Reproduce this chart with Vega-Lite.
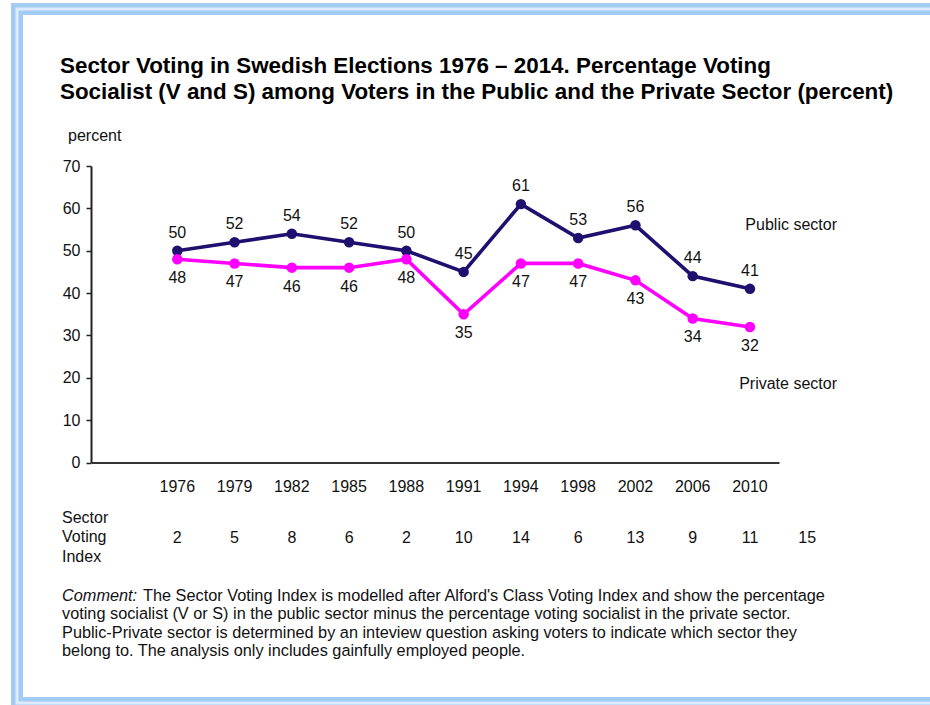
{
  "$schema": "https://vega.github.io/schema/vega-lite/v6.json",
  "width": 688,
  "height": 296.5,
  "autosize": {"type": "none"},
  "padding": {"left": 91, "top": 166, "right": 151, "bottom": 242.5},
  "background": "white",
  "config": {
    "font": "Liberation Sans",
    "view": {"stroke": null},
    "text": {"font": "Liberation Sans", "color": "#111"}
  },
  "title": {
    "text": [
      "Sector Voting in Swedish Elections 1976 – 2014. Percentage Voting",
      "Socialist (V and S) among Voters in the Public and the Private Sector (percent)"
    ],
    "anchor": "start",
    "frame": "group",
    "dx": -31,
    "dy": 100.5,
    "fontSize": 22.4,
    "fontWeight": "bold",
    "font": "Liberation Sans",
    "color": "#000",
    "lineHeight": 26,
    "offset": 0
  },
  "datasets": {
    "elections": [
      {"i": 0, "year": "1976", "public": 50, "private": 48, "svi": 2},
      {"i": 1, "year": "1979", "public": 52, "private": 47, "svi": 5},
      {"i": 2, "year": "1982", "public": 54, "private": 46, "svi": 8},
      {"i": 3, "year": "1985", "public": 52, "private": 46, "svi": 6},
      {"i": 4, "year": "1988", "public": 50, "private": 48, "svi": 2},
      {"i": 5, "year": "1991", "public": 45, "private": 35, "svi": 10},
      {"i": 6, "year": "1994", "public": 61, "private": 47, "svi": 14},
      {"i": 7, "year": "1998", "public": 53, "private": 47, "svi": 6},
      {"i": 8, "year": "2002", "public": 56, "private": 43, "svi": 13},
      {"i": 9, "year": "2006", "public": 44, "private": 34, "svi": 9},
      {"i": 10, "year": "2010", "public": 41, "private": 32, "svi": 11},
      {"i": 11, "year": "2014", "svi": 15}
    ]
  },
  "layer": [
    {
      "data": {"values": [{}]},
      "mark": {"type": "rect", "fillOpacity": 0, "stroke": "#a3ccf4", "strokeWidth": 12},
      "encoding": {
        "x": {"datum": -2.799, "type": "quantitative", "scale": {"domain": [-1.507, 10.507], "nice": false, "zero": false}},
        "x2": {"datum": 13.49},
        "y": {"datum": 107.07, "type": "quantitative", "scale": {"domain": [0, 70], "nice": false, "zero": false}},
        "y2": {"datum": -56.78}
      }
    },
    {
      "data": {"values": [{}]},
      "mark": {"type": "rect", "fillOpacity": 0, "stroke": "#dcecfc", "strokeWidth": 3},
      "encoding": {
        "x": {"datum": -2.799, "type": "quantitative", "scale": {"domain": [-1.507, 10.507], "nice": false, "zero": false}},
        "x2": {"datum": 13.49},
        "y": {"datum": 107.07, "type": "quantitative", "scale": {"domain": [0, 70], "nice": false, "zero": false}},
        "y2": {"datum": -56.78}
      }
    },
    {
      "data": {"name": "elections"},
      "transform": [
        {"fold": ["public", "private"], "as": ["sector", "pct"]},
        {"filter": "isValid(datum.pct)"}
      ],
      "encoding": {
        "x": {
          "field": "i", "type": "quantitative",
          "scale": {"domain": [-1.507, 10.507], "nice": false, "zero": false},
          "axis": {"domain": true, "domainColor": "#333", "domainWidth": 2, "ticks": false, "labels": false, "grid": false, "title": null}
        },
        "y": {
          "field": "pct", "type": "quantitative",
          "scale": {"domain": [0, 70], "nice": false, "zero": false},
          "axis": {
            "values": [0, 10, 20, 30, 40, 50, 60, 70],
            "domainColor": "#222", "domainWidth": 2,
            "tickColor": "#222", "tickWidth": 1.5, "tickSize": 5,
            "labelFontSize": 16, "labelColor": "#111", "labelPadding": 6,
            "grid": false, "title": null
          }
        },
        "color": {
          "field": "sector", "type": "nominal",
          "scale": {"domain": ["public", "private"], "range": ["#1f0f6e", "#ff00ff"]},
          "legend": null
        }
      },
      "layer": [
        {"mark": {"type": "line", "strokeWidth": 3.6}},
        {"mark": {"type": "circle", "size": 110, "opacity": 1}},
        {
          "transform": [{"filter": "datum.sector === 'public'"}],
          "mark": {"type": "text", "fontSize": 16, "dy": -13, "baseline": "alphabetic"},
          "encoding": {"text": {"field": "pct"}, "color": {"value": "#111"}}
        },
        {
          "transform": [{"filter": "datum.sector === 'private'"}],
          "mark": {"type": "text", "fontSize": 16, "dy": 24, "baseline": "alphabetic"},
          "encoding": {"text": {"field": "pct"}, "color": {"value": "#111"}}
        }
      ]
    },
    {
      "data": {"name": "elections"},
      "transform": [{"filter": "isValid(datum.public)"}],
      "mark": {"type": "text", "fontSize": 16, "baseline": "alphabetic"},
      "encoding": {
        "x": {"field": "i", "type": "quantitative", "scale": {"domain": [-1.507, 10.507], "nice": false, "zero": false}},
        "y": {"datum": -7.035, "type": "quantitative", "scale": {"domain": [0, 70], "nice": false, "zero": false}},
        "text": {"field": "year"}
      }
    },
    {
      "data": {"name": "elections"},
      "mark": {"type": "text", "fontSize": 16, "baseline": "alphabetic"},
      "encoding": {
        "x": {"field": "i", "type": "quantitative", "scale": {"domain": [-1.507, 10.507], "nice": false, "zero": false}},
        "y": {"datum": -19.08, "type": "quantitative", "scale": {"domain": [0, 70], "nice": false, "zero": false}},
        "text": {"field": "svi"}
      }
    },
    {
      "data": {"values": [{"label": "percent"}]},
      "mark": {"type": "text", "fontSize": 16, "align": "left", "baseline": "alphabetic"},
      "encoding": {
        "x": {"datum": -1.908, "type": "quantitative", "scale": {"domain": [-1.507, 10.507], "nice": false, "zero": false}},
        "y": {"datum": 75.97, "type": "quantitative", "scale": {"domain": [0, 70], "nice": false, "zero": false}},
        "text": {"field": "label"}
      }
    },
    {
      "data": {"values": [{"label": ["Sector", "Voting", "Index"]}]},
      "mark": {"type": "text", "fontSize": 16, "align": "left", "baseline": "alphabetic", "lineHeight": 19.2},
      "encoding": {
        "x": {"datum": -2.013, "type": "quantitative", "scale": {"domain": [-1.507, 10.507], "nice": false, "zero": false}},
        "y": {"datum": -14.35, "type": "quantitative", "scale": {"domain": [0, 70], "nice": false, "zero": false}},
        "text": {"field": "label"}
      }
    },
    {
      "data": {"values": [{"label": "Public sector"}]},
      "mark": {"type": "text", "fontSize": 16, "align": "right", "baseline": "alphabetic"},
      "encoding": {
        "x": {"datum": 11.519, "type": "quantitative", "scale": {"domain": [-1.507, 10.507], "nice": false, "zero": false}},
        "y": {"datum": 54.89, "type": "quantitative", "scale": {"domain": [0, 70], "nice": false, "zero": false}},
        "text": {"field": "label"}
      }
    },
    {
      "data": {"values": [{"label": "Private sector"}]},
      "mark": {"type": "text", "fontSize": 16, "align": "right", "baseline": "alphabetic"},
      "encoding": {
        "x": {"datum": 11.519, "type": "quantitative", "scale": {"domain": [-1.507, 10.507], "nice": false, "zero": false}},
        "y": {"datum": 17.35, "type": "quantitative", "scale": {"domain": [0, 70], "nice": false, "zero": false}},
        "text": {"field": "label"}
      }
    },
    {
      "data": {"values": [{"label": "Comment:"}]},
      "mark": {"type": "text", "fontSize": 16.3, "fontStyle": "italic", "align": "left", "baseline": "alphabetic"},
      "encoding": {
        "x": {"datum": -2.013, "type": "quantitative", "scale": {"domain": [-1.507, 10.507], "nice": false, "zero": false}},
        "y": {"datum": -32.7, "type": "quantitative", "scale": {"domain": [0, 70], "nice": false, "zero": false}},
        "text": {"field": "label"}
      }
    },
    {
      "data": {"values": [{"label": "The Sector Voting Index is modelled after Alford's Class Voting Index and show the percentage"}]},
      "mark": {"type": "text", "fontSize": 16.3, "align": "left", "baseline": "alphabetic", "dx": 81},
      "encoding": {
        "x": {"datum": -2.013, "type": "quantitative", "scale": {"domain": [-1.507, 10.507], "nice": false, "zero": false}},
        "y": {"datum": -32.7, "type": "quantitative", "scale": {"domain": [0, 70], "nice": false, "zero": false}},
        "text": {"field": "label"}
      }
    },
    {
      "data": {"values": [{"label": [
        "voting socialist (V or S) in the public sector minus the percentage voting socialist in the private sector.",
        "Public-Private sector is determined by an inteview question asking voters to indicate which sector they",
        "belong to. The analysis only includes gainfully employed people."
      ]}]},
      "mark": {"type": "text", "fontSize": 16.3, "align": "left", "baseline": "alphabetic", "lineHeight": 18.6},
      "encoding": {
        "x": {"datum": -2.013, "type": "quantitative", "scale": {"domain": [-1.507, 10.507], "nice": false, "zero": false}},
        "y": {"datum": -37.02, "type": "quantitative", "scale": {"domain": [0, 70], "nice": false, "zero": false}},
        "text": {"field": "label"}
      }
    }
  ]
}
